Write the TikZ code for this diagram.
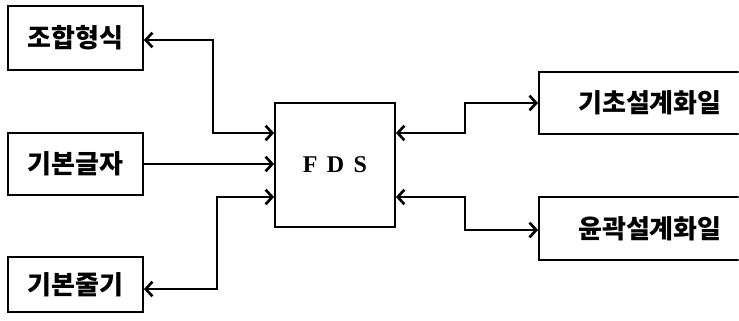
\documentclass[tikz,border=0pt]{standalone}
\usepackage{fontspec}
\setmainfont{Noto Sans CJK KR}
\newfontfamily\fdsfont{Liberation Serif}
\usetikzlibrary{arrows.meta}
\begin{document}
\begin{tikzpicture}[x=0.75pt,y=-0.75pt,
  line width=1.4pt,
  box/.style={draw,rectangle,inner sep=0pt,font=\fontsize{19.5}{22}\selectfont\bfseries},
  >={Straight Barb[length=5pt,width=11pt,line width=2pt]},
  conn/.style={line join=miter}]
\useasboundingbox (0,0) rectangle (739,321);
\clip (0,0) rectangle (738.5,321);
% left boxes
\node[box,minimum width=101.25pt,minimum height=48pt] (b1) at (75.5,38) {조합형식};
\node[box,minimum width=101.25pt,minimum height=46.5pt] (b2) at (75.5,164) {기본글자};
\node[box,minimum width=101.25pt,minimum height=41.25pt] (b3) at (75.5,284.5) {기본줄기};
% centre
\node[box,minimum width=90pt,minimum height=93pt,font=\fdsfont\fontsize{18}{20}\selectfont\bfseries] (fds) at (335,165) {F\hspace{7pt}D\hspace{7pt}S};
% right boxes (clipped at the right edge)
\node[box,minimum width=166.5pt,minimum height=46.5pt,anchor=west] (rA) at (538,103) {\makebox[150.75pt]{기초설계화일}\hspace{15.75pt}};
\node[box,minimum width=166.5pt,minimum height=47.25pt,anchor=west] (rB) at (538,228.5) {\makebox[150.75pt]{윤곽설계화일}\hspace{15.75pt}};
% bend points
\coordinate (k1) at (213,40);
\coordinate (k1b) at (213,133);
\coordinate (k3) at (217,289);
\coordinate (k3b) at (217,197);
\coordinate (kA) at (465,133);
\coordinate (kAb) at (465,103);
\coordinate (kB) at (465,197);
\coordinate (kBb) at (465,230);
% connectors
\draw[conn,<->] (b1.east |- k1) -- (k1) -- (k1b) -- (fds.west |- k1b);
\draw[conn,->] (b2.east) -- (fds.west |- b2.east);
\draw[conn,<->] (b3.east |- k3) -- (k3) -- (k3b) -- (fds.west |- k3b);
\draw[conn,<->] (fds.east |- kA) -- (kA) -- (kAb) -- (rA.west |- kAb);
\draw[conn,<->] (fds.east |- kB) -- (kB) -- (kBb) -- (rB.west |- kBb);
\end{tikzpicture}
\end{document}
